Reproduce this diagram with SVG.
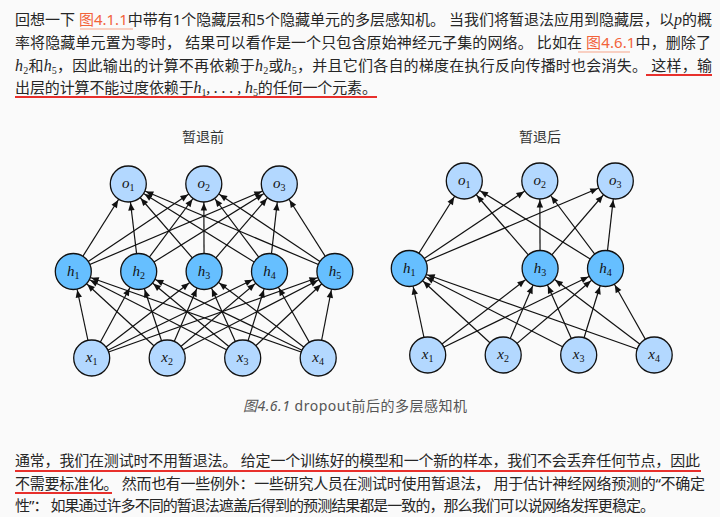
<svg xmlns="http://www.w3.org/2000/svg" width="720" height="517" viewBox="0 0 720 517">
<defs>
<marker id="arr" viewBox="-30 -5 30 10" markerWidth="30" markerHeight="10" refX="0" refY="0" orient="auto" markerUnits="userSpaceOnUse"><path d="M-26.5,-3.2 L-19,0 L-26.5,3.2 z" fill="#111"/></marker>
<style>
.t{font-family:'Noto Sans','Noto Sans CJK SC',sans-serif;font-size:15px;fill:#262626}
.m{font-family:'Liberation Serif',serif;font-style:italic;font-size:16px}
.s{font-family:'Liberation Serif',serif;font-size:10px;font-style:normal}
.lk{fill:#f2633a}
.ul{stroke:#e8302c;stroke-width:2}
.lku{stroke:#f7a58a;stroke-width:1}
.c line{stroke:#111;stroke-width:1.2;marker-end:url(#arr)}
.nl{fill:#b3d8ff;stroke:#111;stroke-width:1.3}
.nd{fill:#66bfff;stroke:#111;stroke-width:1.3}
.lb{font-family:'Liberation Serif',serif;font-style:italic;font-size:15px;fill:#111;text-anchor:middle}
.sb{font-style:normal;font-size:10px}
.ttl{font-family:'Noto Sans CJK SC',sans-serif;font-size:14px;fill:#333;text-anchor:middle}
</style>
</defs>
<rect width="720" height="517" fill="#fafafa"/>

<g id="para-top">
<text class="t" x="15" y="25" textLength="697">回想一下 <tspan class="lk">图4.1.1</tspan>中带有1个隐藏层和5个隐藏单元的多层感知机。 当我们将暂退法应用到隐藏层，以<tspan class="m">p</tspan>的概</text>
<text class="t" x="15" y="48" textLength="696">率将隐藏单元置为零时， 结果可以看作是一个只包含原始神经元子集的网络。 比如在 <tspan class="lk">图4.6.1</tspan>中，删除了</text>
<text class="t" x="15" y="71" textLength="697"><tspan class="m">h</tspan><tspan class="s" dy="3">2</tspan><tspan dy="-3">和</tspan><tspan class="m">h</tspan><tspan class="s" dy="3">5</tspan><tspan dy="-3">，因此输出的计算不再依赖于</tspan><tspan class="m">h</tspan><tspan class="s" dy="3">2</tspan><tspan dy="-3">或</tspan><tspan class="m">h</tspan><tspan class="s" dy="3">5</tspan><tspan dy="-3">，并且它们各自的梯度在执行反向传播时也会消失。 这样，输</tspan></text>
<text class="t" x="15" y="93" textLength="362">出层的计算不能过度依赖于<tspan class="m">h</tspan><tspan class="s" dy="3">1</tspan><tspan dy="-3" class="m" font-style="normal">, . . . , h</tspan><tspan class="s" dy="3">5</tspan><tspan dy="-3">的任何一个元素。</tspan></text>
<line class="lku" x1="80" y1="29" x2="133" y2="29"/>
<line class="lku" x1="578" y1="52" x2="630" y2="52"/>
<line class="ul" x1="646" y1="75" x2="712" y2="75"/>
<line class="ul" x1="15" y1="97" x2="377" y2="97"/>
</g>

<text class="ttl" x="203" y="142">暂退前</text>
<text class="ttl" x="540" y="142">暂退后</text>

<g id="connectors" class="c">
<line x1="91.7" y1="358" x2="73.3" y2="271.5"/>
<line x1="91.7" y1="358" x2="138.7" y2="271.5"/>
<line x1="91.7" y1="358" x2="204.1" y2="271.5"/>
<line x1="91.7" y1="358" x2="269.5" y2="271.5"/>
<line x1="91.7" y1="358" x2="334.9" y2="271.5"/>
<line x1="167.2" y1="358" x2="73.3" y2="271.5"/>
<line x1="167.2" y1="358" x2="138.7" y2="271.5"/>
<line x1="167.2" y1="358" x2="204.1" y2="271.5"/>
<line x1="167.2" y1="358" x2="269.5" y2="271.5"/>
<line x1="167.2" y1="358" x2="334.9" y2="271.5"/>
<line x1="242.7" y1="358" x2="73.3" y2="271.5"/>
<line x1="242.7" y1="358" x2="138.7" y2="271.5"/>
<line x1="242.7" y1="358" x2="204.1" y2="271.5"/>
<line x1="242.7" y1="358" x2="269.5" y2="271.5"/>
<line x1="242.7" y1="358" x2="334.9" y2="271.5"/>
<line x1="318.2" y1="358" x2="73.3" y2="271.5"/>
<line x1="318.2" y1="358" x2="138.7" y2="271.5"/>
<line x1="318.2" y1="358" x2="204.1" y2="271.5"/>
<line x1="318.2" y1="358" x2="269.5" y2="271.5"/>
<line x1="318.2" y1="358" x2="334.9" y2="271.5"/>
<line x1="73.3" y1="271.5" x2="128.3" y2="184"/>
<line x1="73.3" y1="271.5" x2="203.8" y2="184"/>
<line x1="73.3" y1="271.5" x2="279.3" y2="184"/>
<line x1="138.7" y1="271.5" x2="128.3" y2="184"/>
<line x1="138.7" y1="271.5" x2="203.8" y2="184"/>
<line x1="138.7" y1="271.5" x2="279.3" y2="184"/>
<line x1="204.1" y1="271.5" x2="128.3" y2="184"/>
<line x1="204.1" y1="271.5" x2="203.8" y2="184"/>
<line x1="204.1" y1="271.5" x2="279.3" y2="184"/>
<line x1="269.5" y1="271.5" x2="128.3" y2="184"/>
<line x1="269.5" y1="271.5" x2="203.8" y2="184"/>
<line x1="269.5" y1="271.5" x2="279.3" y2="184"/>
<line x1="334.9" y1="271.5" x2="128.3" y2="184"/>
<line x1="334.9" y1="271.5" x2="203.8" y2="184"/>
<line x1="334.9" y1="271.5" x2="279.3" y2="184"/>

<line x1="427.7" y1="355" x2="409.3" y2="268.5"/>
<line x1="427.7" y1="355" x2="540.1" y2="268.5"/>
<line x1="427.7" y1="355" x2="605.5" y2="268.5"/>
<line x1="503.2" y1="355" x2="409.3" y2="268.5"/>
<line x1="503.2" y1="355" x2="540.1" y2="268.5"/>
<line x1="503.2" y1="355" x2="605.5" y2="268.5"/>
<line x1="578.7" y1="355" x2="409.3" y2="268.5"/>
<line x1="578.7" y1="355" x2="540.1" y2="268.5"/>
<line x1="578.7" y1="355" x2="605.5" y2="268.5"/>
<line x1="654.2" y1="355" x2="409.3" y2="268.5"/>
<line x1="654.2" y1="355" x2="540.1" y2="268.5"/>
<line x1="654.2" y1="355" x2="605.5" y2="268.5"/>
<line x1="409.3" y1="268.5" x2="464.3" y2="181"/>
<line x1="409.3" y1="268.5" x2="539.8" y2="181"/>
<line x1="409.3" y1="268.5" x2="615.3" y2="181"/>
<line x1="540.1" y1="268.5" x2="464.3" y2="181"/>
<line x1="540.1" y1="268.5" x2="539.8" y2="181"/>
<line x1="540.1" y1="268.5" x2="615.3" y2="181"/>
<line x1="605.5" y1="268.5" x2="464.3" y2="181"/>
<line x1="605.5" y1="268.5" x2="539.8" y2="181"/>
<line x1="605.5" y1="268.5" x2="615.3" y2="181"/>
</g>

<g id="L-o1"><circle class="nl" cx="128.3" cy="184" r="18"/><text class="lb" x="128.3" y="188">o<tspan class="sb" dy="3">1</tspan></text></g>
<g id="L-o2"><circle class="nl" cx="203.8" cy="184" r="18"/><text class="lb" x="203.8" y="188">o<tspan class="sb" dy="3">2</tspan></text></g>
<g id="L-o3"><circle class="nl" cx="279.3" cy="184" r="18"/><text class="lb" x="279.3" y="188">o<tspan class="sb" dy="3">3</tspan></text></g>
<g id="L-h1"><circle class="nd" cx="73.3" cy="271.5" r="18"/><text class="lb" x="73.3" y="276">h<tspan class="sb" dy="3">1</tspan></text></g>
<g id="L-h2"><circle class="nd" cx="138.7" cy="271.5" r="18"/><text class="lb" x="138.7" y="276">h<tspan class="sb" dy="3">2</tspan></text></g>
<g id="L-h3"><circle class="nd" cx="204.1" cy="271.5" r="18"/><text class="lb" x="204.1" y="276">h<tspan class="sb" dy="3">3</tspan></text></g>
<g id="L-h4"><circle class="nd" cx="269.5" cy="271.5" r="18"/><text class="lb" x="269.5" y="276">h<tspan class="sb" dy="3">4</tspan></text></g>
<g id="L-h5"><circle class="nd" cx="334.9" cy="271.5" r="18"/><text class="lb" x="334.9" y="276">h<tspan class="sb" dy="3">5</tspan></text></g>
<g id="L-x1"><circle class="nl" cx="91.7" cy="358" r="18"/><text class="lb" x="91.7" y="362">x<tspan class="sb" dy="3">1</tspan></text></g>
<g id="L-x2"><circle class="nl" cx="167.2" cy="358" r="18"/><text class="lb" x="167.2" y="362">x<tspan class="sb" dy="3">2</tspan></text></g>
<g id="L-x3"><circle class="nl" cx="242.7" cy="358" r="18"/><text class="lb" x="242.7" y="362">x<tspan class="sb" dy="3">3</tspan></text></g>
<g id="L-x4"><circle class="nl" cx="318.2" cy="358" r="18"/><text class="lb" x="318.2" y="362">x<tspan class="sb" dy="3">4</tspan></text></g>

<g id="R-o1"><circle class="nl" cx="464.3" cy="181" r="18"/><text class="lb" x="464.3" y="185">o<tspan class="sb" dy="3">1</tspan></text></g>
<g id="R-o2"><circle class="nl" cx="539.8" cy="181" r="18"/><text class="lb" x="539.8" y="185">o<tspan class="sb" dy="3">2</tspan></text></g>
<g id="R-o3"><circle class="nl" cx="615.3" cy="181" r="18"/><text class="lb" x="615.3" y="185">o<tspan class="sb" dy="3">3</tspan></text></g>
<g id="R-h1"><circle class="nd" cx="409.3" cy="268.5" r="18"/><text class="lb" x="409.3" y="273">h<tspan class="sb" dy="3">1</tspan></text></g>
<g id="R-h3"><circle class="nd" cx="540.1" cy="268.5" r="18"/><text class="lb" x="540.1" y="273">h<tspan class="sb" dy="3">3</tspan></text></g>
<g id="R-h4"><circle class="nd" cx="605.5" cy="268.5" r="18"/><text class="lb" x="605.5" y="273">h<tspan class="sb" dy="3">4</tspan></text></g>
<g id="R-x1"><circle class="nl" cx="427.7" cy="355" r="18"/><text class="lb" x="427.7" y="359">x<tspan class="sb" dy="3">1</tspan></text></g>
<g id="R-x2"><circle class="nl" cx="503.2" cy="355" r="18"/><text class="lb" x="503.2" y="359">x<tspan class="sb" dy="3">2</tspan></text></g>
<g id="R-x3"><circle class="nl" cx="578.7" cy="355" r="18"/><text class="lb" x="578.7" y="359">x<tspan class="sb" dy="3">3</tspan></text></g>
<g id="R-x4"><circle class="nl" cx="654.2" cy="355" r="18"/><text class="lb" x="654.2" y="359">x<tspan class="sb" dy="3">4</tspan></text></g>

<text id="caption" x="243" y="411" textLength="224" font-family="'Noto Sans','Noto Sans CJK SC',sans-serif" font-size="14" fill="#555"><tspan font-style="italic">图4.6.1</tspan> dropout前后的多层感知机</text>

<g id="para-bottom">
<text class="t" x="15" y="466" textLength="685">通常，我们在测试时不用暂退法。 给定一个训练好的模型和一个新的样本，我们不会丢弃任何节点，因此</text>
<text class="t" x="15" y="489" textLength="690">不需要标准化。 然而也有一些例外：一些研究人员在测试时使用暂退法， 用于估计神经网络预测的“不确定</text>
<text class="t" x="15" y="511" textLength="640">性”： 如果通过许多不同的暂退法遮盖后得到的预测结果都是一致的，那么我们可以说网络发挥更稳定。</text>
<line class="ul" x1="15" y1="471" x2="701" y2="471"/>
<line class="ul" x1="15" y1="493" x2="112" y2="493"/>
</g>
</svg>
